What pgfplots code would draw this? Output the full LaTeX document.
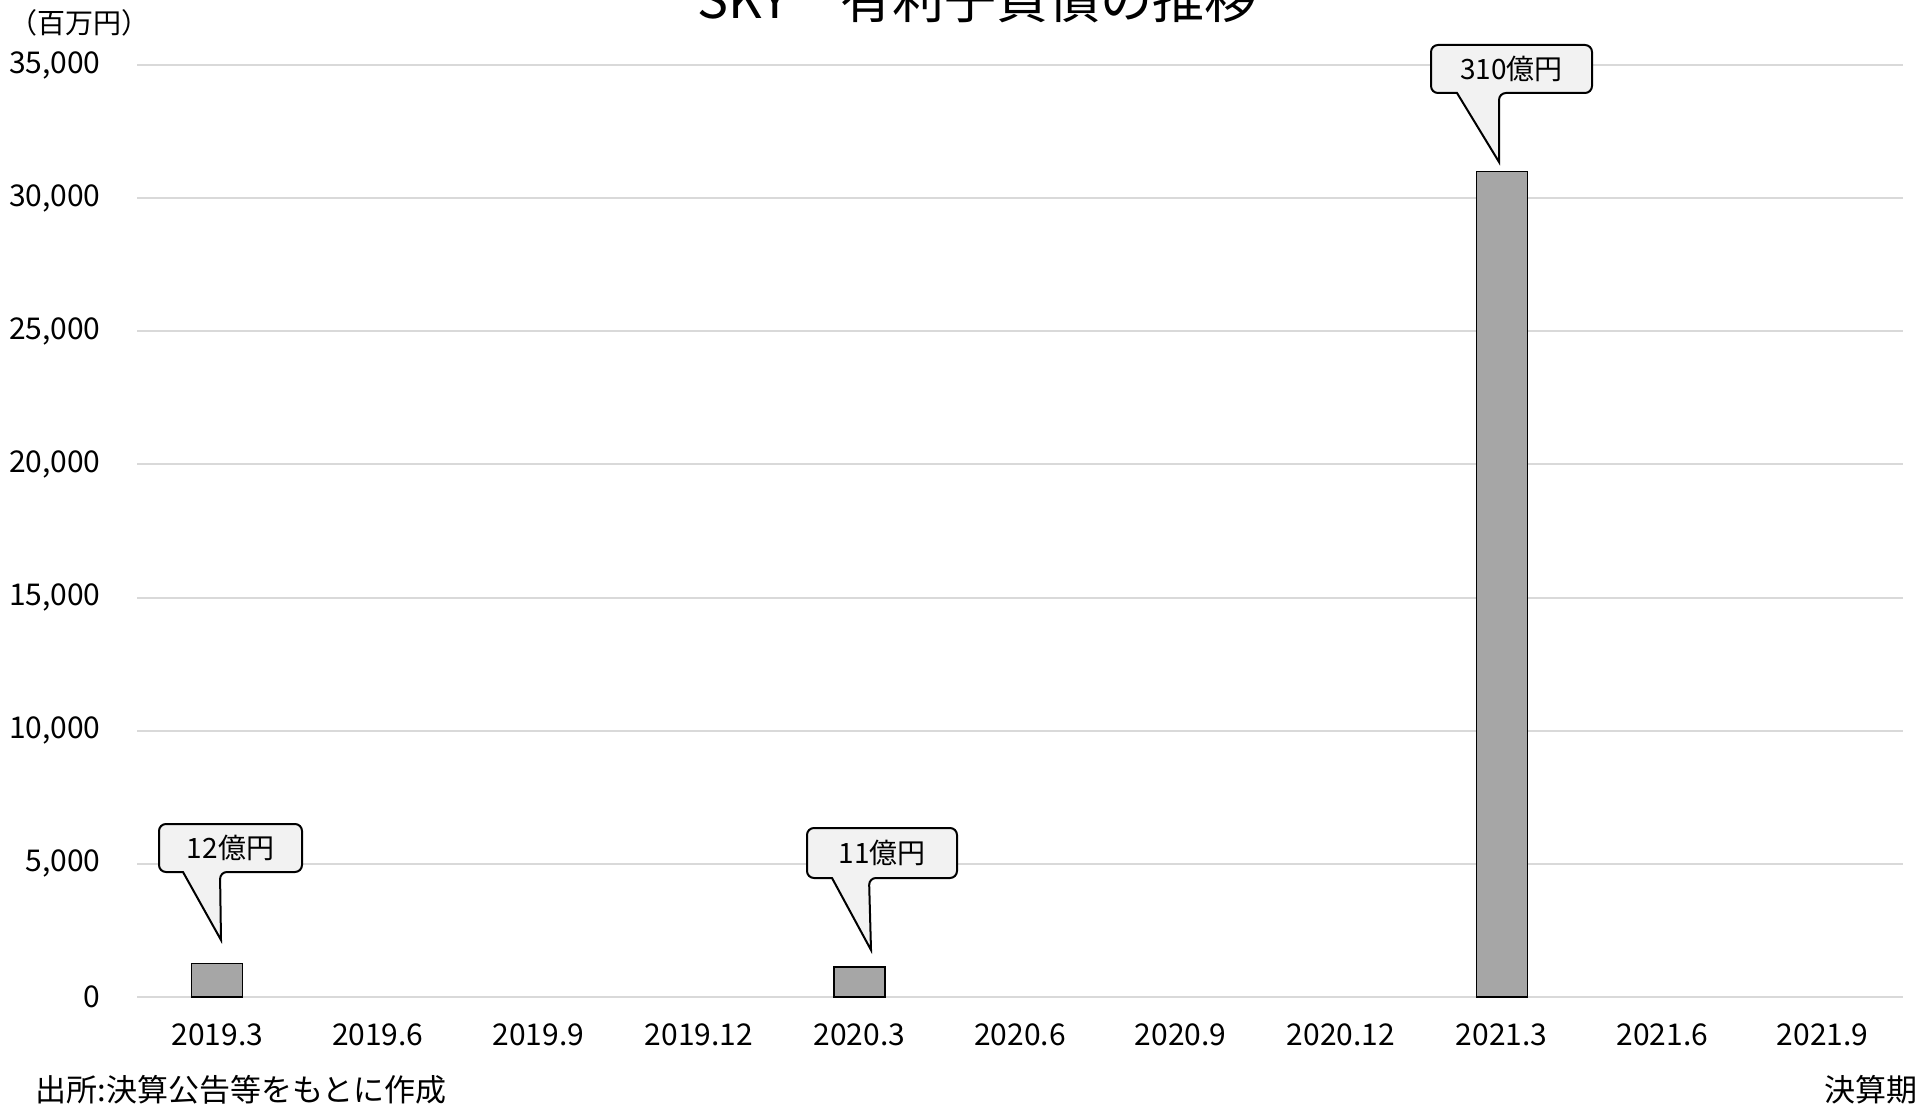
\documentclass[border=0pt]{standalone}
\usepackage{fontspec}
\setmainfont{Noto Sans CJK JP}
\usepackage{pgfplots}
\pgfplotsset{compat=1.18}
\definecolor{gridgray}{RGB}{217,217,217}
\definecolor{bargray}{RGB}{166,166,166}
\definecolor{calloutfill}{RGB}{242,242,242}
% callout: left, right, top, bottom, base1, base2, tip x, tip y, text (pixel units)
\newcommand\callout[9]{%
  \draw[fill=calloutfill, line width=1pt]
    ({(#1+#2)/2},#3) [rounded corners=3.5pt] -- (#2,#3) -- (#2,#4) -- (#6,#4)
    [sharp corners] -- (#7,#8) -- (#5,#4)
    [rounded corners=3.5pt] -- (#1,#4) -- (#1,#3) -- cycle;
  \node[font=\fontsize{14pt}{16pt}\selectfont] at ({(#1+#2)/2},{(#3+#4)/2}) {#9};
}
\begin{document}
\begin{tikzpicture}
\begin{axis}[
    at={(68.5pt,54pt)}, anchor=south west,
    scale only axis,
    width=883pt, height=466pt,
    xmin=-0.5, xmax=10.5,
    ymin=0, ymax=35000,
    ybar, bar width=25.5pt,
    axis line style={draw=none},
    tick style={draw=none},
    major tick length=0pt,
    ymajorgrids,
    grid style={gridgray, line width=1pt},
    xtick={0,...,10},
    xticklabels={2019.3,2019.6,2019.9,2019.12,2020.3,2020.6,2020.9,2020.12,2021.3,2021.6,2021.9},
    ytick={0,5000,...,35000},
    scaled y ticks=false,
    yticklabels={0,{5,000},{10,000},{15,000},{20,000},{25,000},{30,000},{35,000}},
    xticklabel style={font=\fontsize{15pt}{18pt}\selectfont, anchor=center, inner sep=0pt, yshift=-19pt},
    yticklabel style={font=\fontsize{15pt}{18pt}\selectfont, anchor=east, inner sep=0pt, xshift=-18pt},
    ]
    \addplot[fill=bargray, draw=black, line width=0.6pt] coordinates {
        (0,1270)
        (4,1130)
        (8,31000) };
\end{axis}
\begin{scope}[yshift=552.5pt, x=0.5pt, y=-0.5pt]
    \callout{159}{302}{824}{872}{183}{220}{221}{940}{12億円}
    \callout{807}{957}{828}{878}{832}{869}{871}{950}{11億円}
    \callout{1431}{1592}{45}{93}{1457}{1499}{1499}{162}{310億円}
    \node[font=\fontsize{14pt}{17pt}\selectfont] at (80,23) {（百万円）};
    \node[font=\fontsize{15.5pt}{18pt}\selectfont, anchor=west, inner sep=0pt] at (35,1090) {出所:決算公告等をもとに作成};
    \node[font=\fontsize{15.5pt}{18pt}\selectfont, anchor=east, inner sep=0pt] at (1918,1090) {決算期};
    \node[font=\fontsize{26pt}{30pt}\selectfont, anchor=south, inner sep=0pt] at (977,23) {SKY　有利子負債の推移};
\end{scope}
\pgfresetboundingbox
\useasboundingbox (0,0) rectangle (965.5pt,552.5pt);
\end{tikzpicture}
\end{document}
